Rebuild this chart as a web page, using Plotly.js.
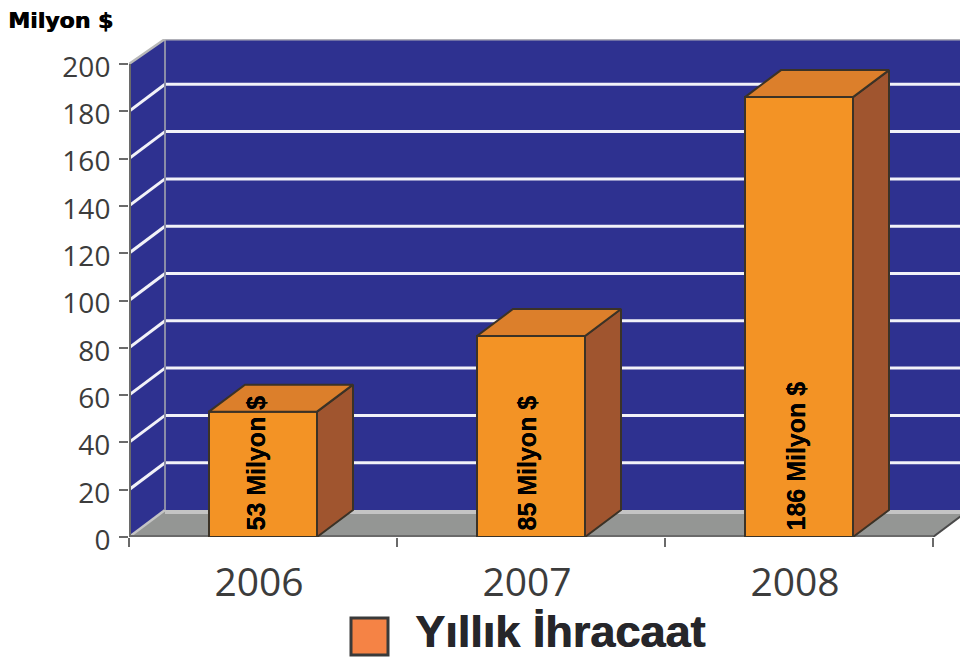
<!DOCTYPE html>
<html><head><meta charset="utf-8">
<script src="https://cdn.plot.ly/plotly-3.0.1.min.js"></script>
<style>html,body{margin:0;padding:0;background:#fff}#c{width:960px;height:658px}</style>
</head><body><div id="c"></div>
<script>
// Data
const categories = ['2006','2007','2008'];
const exportsMillion = [53,85,186];
const barLabels = ['53 Milyon $','85 Milyon $','186 Milyon $'];
const yTicks = [0,20,40,60,80,100,120,140,160,180,200];
const unitTitle = 'Milyon $';
const legendLabel = 'Yıllık İhracaat';

// Geometry (pixel frame of the plot and the fake-3D depth)
const W=960,H=658,L=129,B=537,T=39;
const pxX=268, pxY=2.365;
const dx=36/pxX, dy=27/pxY, barW=108/pxX;
const xMin=-0.5, xMax=xMin+(W-L)/pxX, yMax=(B-T)/pxY;
const xLast=categories.length-0.5;
const idx=categories.map((_,i)=>i);
const labelShift=[-8,-5,-4];

const WALL='#2E3190',GRID='#F2F2F8',FRONT='#F39325',SIDE='#A0552F',TOP='#DC7F2B',EDGE='#3B3226',AXIS='#6A6A6A';

function path(pts){return 'M'+pts.map(p=>p[0]+' '+p[1]).join('L')+'Z';}
const shapes=[];
function poly(pts,fill,lw,lc){shapes.push({type:'path',xref:'x',yref:'y',layer:'below',path:path(pts),fillcolor:fill,line:{width:lw||0,color:lc||fill}});}
function seg(a,b,color,w){shapes.push({type:'line',xref:'x',yref:'y',layer:'below',x0:a[0],y0:a[1],x1:b[0],y1:b[1],line:{color:color,width:w}});}

// back wall, side wall, floor
poly([[xMin+dx,dy],[xMax,dy],[xMax,yMax],[xMin+dx,yMax]],WALL);
poly([[xMin,0],[xMin+dx,dy],[xMin+dx,yMax],[xMin,200]],WALL);
poly([[xMin,0],[xMin+dx,dy],[xLast+dx,dy],[xLast,0]],'#949694');
seg([xMin+dx,dy-2/pxY],[xLast+dx,dy-2/pxY],'#C4C4C4',4);
seg([xMin,0],[xMin+dx,dy],'#C4C4C4',2.5);
seg([xLast,0],[xLast+dx,dy],'#4A4A4A',2);
// gridlines
yTicks.filter(v=>v>0&&v<200).forEach(v=>{
  seg([xMin,v],[xMin+dx,v+dy],GRID,3);
  seg([xMin+dx,v+dy],[xMax,v+dy],GRID,3);
});
// wall edges
seg([xMin+dx,dy],[xMin+dx,yMax],'#8A8CA8',2);
seg([xMin+dx,yMax],[xMax,yMax],'#B0B0B8',3);
seg([xMin,200],[xMin+dx,yMax],'#B8B8B8',2.5);
// axis lines
seg([xMin,0],[xMin,200],AXIS,4);
seg([xMin,0],[xLast,0],AXIS,4);

// legend swatch, in paper coordinates
const pX=x=>(x-L)/(W-L), pY=y=>(B-y)/(B-T);
shapes.push({type:'rect',xref:'paper',yref:'paper',x0:pX(351),x1:pX(388),y0:pY(655),y1:pY(618),fillcolor:'#F58345',line:{color:'#3A3A3A',width:3}});

// Bars and their 3D faces
const traces=[];
idx.forEach(i=>{
  const v=exportsMillion[i], r=i+barW/2, l=i-barW/2;
  traces.push({type:'scatter',mode:'lines',fill:'toself',fillcolor:SIDE,line:{color:EDGE,width:2},hoverinfo:'skip',
    x:[r,r+dx,r+dx,r,r],y:[0,dy,v+dy,v,0]});
  traces.push({type:'scatter',mode:'lines',fill:'toself',fillcolor:TOP,line:{color:EDGE,width:2},hoverinfo:'skip',
    x:[l,l+dx,r+dx,r,l],y:[v,v+dy,v+dy,v,v]});
});
traces.unshift({type:'bar',x:idx,y:exportsMillion,width:barW,marker:{color:FRONT,line:{color:EDGE,width:2}},hoverinfo:'x+y'});

const annotations=barLabels.map((t,i)=>({x:i,y:0,xref:'x',yref:'y',text:'<b>'+t+'</b>',textangle:-90,showarrow:false,
  xanchor:'center',yanchor:'bottom',xshift:labelShift[i],yshift:4,font:{family:'Liberation Sans',size:25,color:'#000',shadow:'0 0.4px 0 #000'}}));
annotations.push({xref:'paper',yref:'paper',x:pX(6),y:pY(21),xanchor:'left',yanchor:'middle',showarrow:false,
  text:'<b>'+unitTitle+'</b>',font:{family:'DejaVu Sans',size:22,color:'#000',shadow:'0.7px 0 0 #000'}});
annotations.push({xref:'paper',yref:'paper',x:pX(413),y:pY(631),xanchor:'left',yanchor:'middle',showarrow:false,
  text:'<b>'+legendLabel+'</b>',font:{family:'Liberation Sans',size:45,color:'#26262A',shadow:'0.8px 0 0 #26262A'}});

const layout={
  width:W,height:H,margin:{l:L,r:0,t:T,b:H-B,pad:0},paper_bgcolor:'#fff',plot_bgcolor:'#fff',
  showlegend:false,hovermode:'closest',shapes,annotations,
  xaxis:{range:[xMin,xMax],tickmode:'array',tickvals:idx,ticktext:categories,showgrid:false,zeroline:false,showline:false,
    ticks:'outside',ticklen:11,tickcolor:'rgba(0,0,0,0)',ticklabelshift:-4,tickfont:{family:'Open Sans',size:39,color:'#3C3C3C'},
    minor:{tickmode:'array',tickvals:[xMin,0.5,1.5,xLast],ticks:'outside',ticklen:9,tickwidth:2,tickcolor:AXIS,showgrid:false}},
  yaxis:{range:[0,yMax],tickmode:'array',tickvals:yTicks,showgrid:false,zeroline:false,showline:false,
    ticks:'outside',ticklen:9,tickwidth:2,tickcolor:AXIS,ticklabelstandoff:3,ticklabelshift:3,tickfont:{family:'Open Sans',size:28,color:'#3C3C3C'}}
};
Plotly.newPlot('c',traces,layout,{displayModeBar:false,staticPlot:true});
</script></body></html>
